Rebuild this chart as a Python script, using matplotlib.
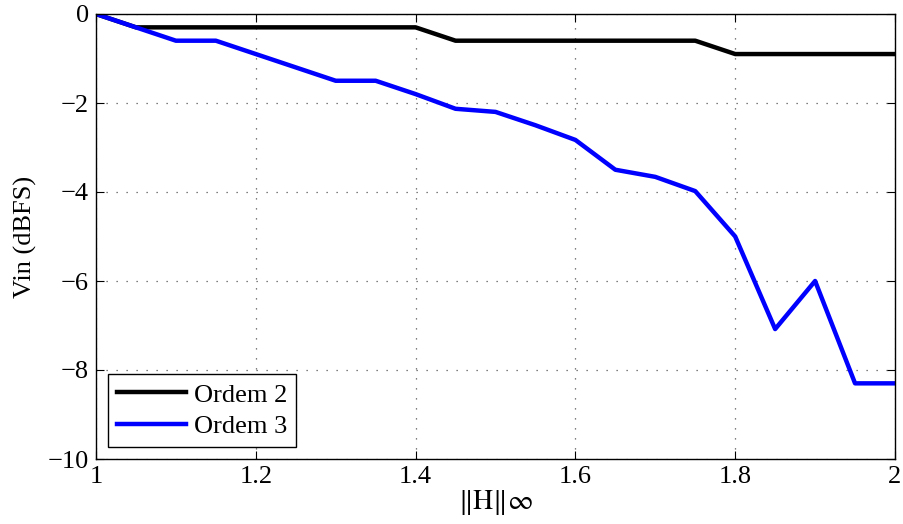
import matplotlib
matplotlib.use("Agg")
import matplotlib.pyplot as plt

plt.rcParams['font.family'] = ['Liberation Serif', 'DejaVu Serif']
plt.rcParams['mathtext.fontset'] = 'stix'

# norm values (x) and input level for each filter order
h_norm = [1.0, 1.05, 1.1, 1.15, 1.2, 1.25, 1.3, 1.35, 1.4, 1.45, 1.5,
          1.55, 1.6, 1.65, 1.7, 1.75, 1.8, 1.85, 1.9, 1.95, 2.0]
ordem2 = [0.0, -0.3, -0.3, -0.3, -0.3, -0.3, -0.3, -0.3, -0.3, -0.6, -0.6,
          -0.6, -0.6, -0.6, -0.6, -0.6, -0.9, -0.9, -0.9, -0.9, -0.9]
ordem3 = [0.0, -0.3, -0.6, -0.6, -0.9, -1.2, -1.5, -1.5, -1.8, -2.13, -2.2,
          -2.5, -2.83, -3.5, -3.66, -3.98, -5.0, -7.08, -6.0, -8.3, -8.3]

fig = plt.figure(figsize=(9.04, 5.24), dpi=100)
ax = fig.add_axes([96 / 904, 1 - 459 / 524, 799 / 904, 445 / 524])

ax.plot(h_norm, ordem2, color='black', lw=3.2, label='Ordem 2')
ax.plot(h_norm, ordem3, color='#0000ff', lw=3.2, label='Ordem 3')

ax.set_xlim(1, 2)
ax.set_ylim(-10, 0)
ax.set_xticks([1, 1.2, 1.4, 1.6, 1.8, 2])
ax.set_xticklabels(['1', '1.2', '1.4', '1.6', '1.8', '2'])
ax.set_yticks([0, -2, -4, -6, -8, -10])

ax.grid(True, color='#555555', linestyle=(0, (1, 7)), linewidth=0.9)
ax.tick_params(direction='in', top=True, right=True, length=6,
               labelsize=19, pad=5)
for s in ax.spines.values():
    s.set_linewidth(1.0)

ax.set_xlabel(r'$\Vert\mathrm{H}\Vert\infty$', fontsize=20, labelpad=0)
ax.set_ylabel('Vin (dBFS)', fontsize=19, labelpad=8)

leg = ax.legend(loc='lower left', fontsize=19, fancybox=False,
                edgecolor='black', framealpha=1, borderpad=0.35,
                handlelength=2.6, labelspacing=0.3, handletextpad=0.3,
                borderaxespad=0.45)
leg.get_frame().set_linewidth(1.0)

fig.savefig('out.png', dpi=100)
